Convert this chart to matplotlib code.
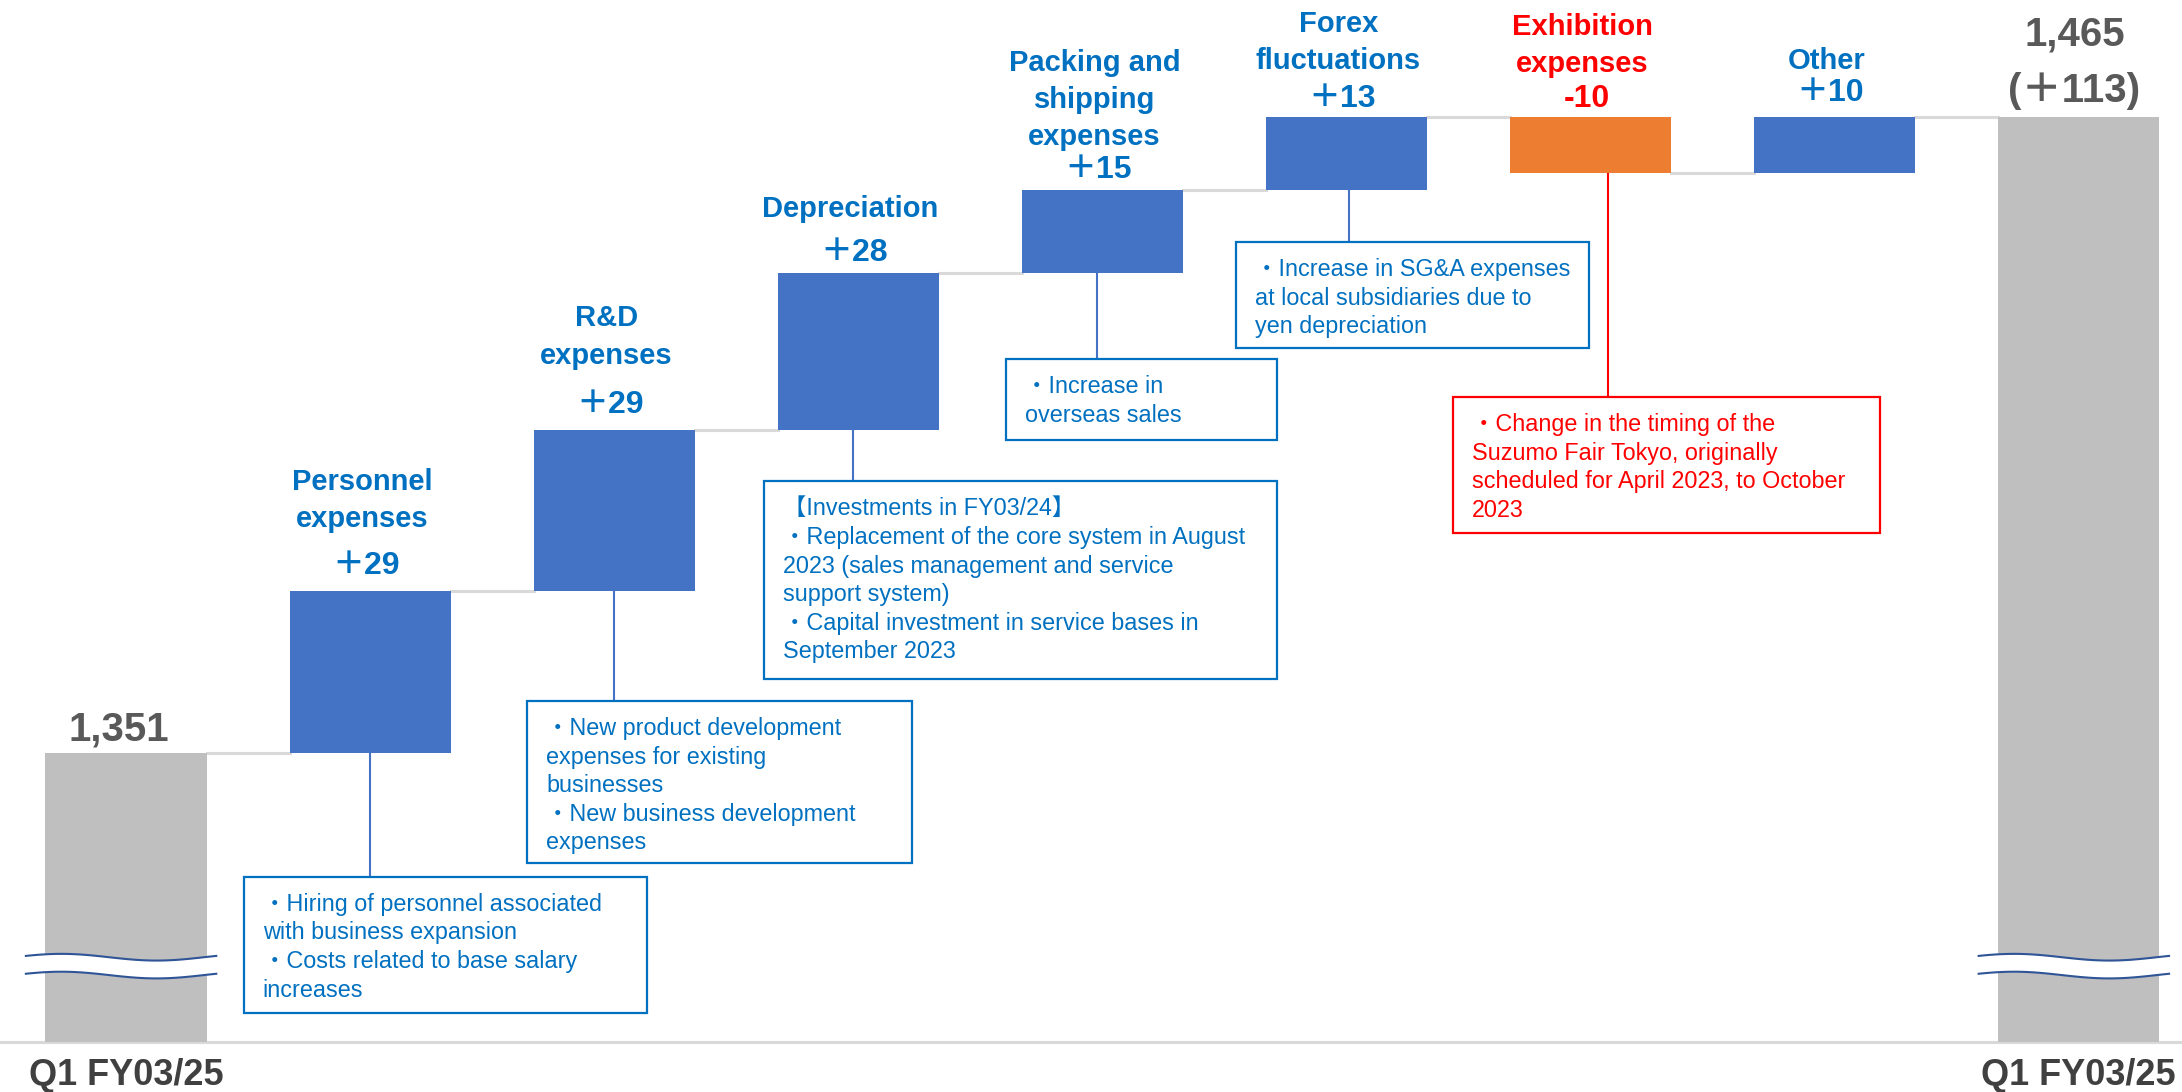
import matplotlib
import numpy as np

matplotlib.use("Agg")
import matplotlib.pyplot as plt
from matplotlib.patches import Rectangle
from matplotlib.transforms import blended_transform_factory


plt.rcParams["font.family"] = ["Liberation Sans", "Noto Sans CJK JP"]

PERIOD_LABEL = "Q1 FY03/25"
START_VALUE = 1351
END_VALUE = 1465
START_LABEL = "1,351"
END_LABEL = "1,465"
END_DIFF_LABEL = "(＋113)"

ITEM_NAMES = [
    "Personnel\nexpenses",
    "R&D\nexpenses",
    "Depreciation",
    "Packing and\nshipping\nexpenses",
    "Forex\nfluctuations",
    "Exhibition\nexpenses",
    "Other",
]
ITEM_CHANGES = [29, 29, 28, 15, 13, -10, 10]
ITEM_LABELS = ["＋29", "＋29", "＋28", "＋15", "＋13", "-10", "＋10"]

NOTE_ITEMS = [0, 1, 2, 3, 4, 5]
NOTE_TEXTS = [
    "・Hiring of personnel associated\nwith business expansion\n・Costs related to base salary\nincreases",
    "・New product development\nexpenses for existing\nbusinesses\n・New business development\nexpenses",
    "【Investments in FY03/24】\n・Replacement of the core system in August\n2023 (sales management and service\nsupport system)\n・Capital investment in service bases in\nSeptember 2023",
    "・Increase in\noverseas sales",
    "・Increase in SG&A expenses\nat local subsidiaries due to\nyen depreciation",
    "・Change in the timing of the\nSuzumo Fair Tokyo, originally\nscheduled for April 2023, to October\n2023",
]

# layout: note boxes as (left, right, top, bottom) in data units
NOTE_BOXES = [
    (0.483, 2.134, 1328.8, 1304.4),
    (1.643, 3.220, 1360.3, 1331.3),
    (2.614, 4.715, 1399.7, 1364.3),
    (3.605, 4.715, 1421.6, 1407.1),
    (4.547, 5.994, 1442.6, 1423.6),
    (5.436, 7.186, 1414.8, 1390.4),
]
NOTE_LINE_DX = [0.0, 0.0, -0.02, -0.02, 0.01, 0.07]
VALUE_OFFSET = [25, 25, 20, 20, 18, 18, 24]
NAME_OFFSET = [58, 60, 50, 39, 42, 39, 42]

BLUE_BAR = "#4472C4"
ORANGE_BAR = "#ED7D31"
GRAY_BAR = "#BFBFBF"
TEXT_BLUE = "#0070C0"
TEXT_RED = "#FF0000"
GRAY_TEXT = "#595959"
LINE_GRAY = "#D9D9D9"
BREAK_BLUE = "#2F5597"

BAR_W = 0.66
Y_MIN, Y_MAX = 1299.2, 1486.0


def draw_break(ax, xc):
    xs = np.linspace(xc - 0.41, xc + 0.37, 100)
    t = (xs - xs[0]) / (xs[-1] - xs[0])
    wave = 0.6 * np.sin(2 * np.pi * t + 0.4)
    upper = 1314.4 + wave
    lower = 1311.2 + wave
    ax.fill_between(xs, lower, upper, color="white", zorder=3, lw=0)
    ax.plot(xs, upper, color=BREAK_BLUE, lw=1.5, zorder=4)
    ax.plot(xs, lower, color=BREAK_BLUE, lw=1.5, zorder=4)


def main():
    fig = plt.figure(figsize=(21.82, 10.92), dpi=100)
    ax = fig.add_axes([0, 50 / 1092, 1, 1042 / 1092])
    ax.set_xlim(-0.516, 8.423)
    ax.set_ylim(Y_MIN, Y_MAX)
    ax.axis("off")

    n_items = len(ITEM_CHANGES)
    last_x = n_items + 1

    # running totals
    levels = [START_VALUE]
    for ch in ITEM_CHANGES:
        levels.append(levels[-1] + ch)

    ax.bar(0, START_VALUE, width=BAR_W, color=GRAY_BAR, zorder=2)
    ax.bar(last_x, END_VALUE, width=BAR_W, color=GRAY_BAR, zorder=2)

    for k, ch in enumerate(ITEM_CHANGES):
        color = BLUE_BAR if ch >= 0 else ORANGE_BAR
        ax.bar(k + 1, abs(ch), bottom=min(levels[k], levels[k + 1]),
               width=BAR_W, color=color, zorder=2)

    # connectors between bars
    for i in range(n_items + 1):
        ax.plot([i + BAR_W / 2, i + 1 - BAR_W / 2], [levels[i], levels[i]],
                color=LINE_GRAY, lw=2.2, zorder=1)

    # baseline
    ax.axhline(Y_MIN, color=LINE_GRAY, lw=2.2, zorder=1, clip_on=False)

    draw_break(ax, 0)
    draw_break(ax, last_x)

    # item labels
    for k, (name, lab) in enumerate(zip(ITEM_NAMES, ITEM_LABELS)):
        top = max(levels[k], levels[k + 1])
        color = TEXT_RED if ITEM_CHANGES[k] < 0 else TEXT_BLUE
        ax.annotate(lab, (k + 1, top), xytext=(-4, VALUE_OFFSET[k]),
                    textcoords="offset pixels", ha="center", va="center",
                    fontsize=23, fontweight="bold", color=color)
        ax.annotate(name, (k + 1, top), xytext=(-8, NAME_OFFSET[k]),
                    textcoords="offset pixels", ha="center", va="bottom",
                    fontsize=21, fontweight="bold", color=color,
                    linespacing=1.41)

    # totals
    ax.annotate(START_LABEL, (0, START_VALUE), xytext=(-7, 13),
                textcoords="offset pixels", ha="center", va="baseline",
                fontsize=29, fontweight="bold", color=GRAY_TEXT)
    ax.annotate(END_DIFF_LABEL, (last_x, END_VALUE), xytext=(-5, 15),
                textcoords="offset pixels", ha="center", va="baseline",
                fontsize=29, fontweight="bold", color=GRAY_TEXT)
    ax.annotate(END_LABEL, (last_x, END_VALUE), xytext=(-4, 72),
                textcoords="offset pixels", ha="center", va="baseline",
                fontsize=29, fontweight="bold", color=GRAY_TEXT)

    trans = blended_transform_factory(ax.transData, ax.transAxes)
    for xi in (0, last_x):
        ax.annotate(PERIOD_LABEL, (xi, 0), xycoords=trans, xytext=(0, -43),
                    textcoords="offset pixels", ha="center", va="baseline",
                    fontsize=26, fontweight="bold", color="#404040",
                    annotation_clip=False)

    # note boxes
    for k, text, (x0, x1, y_top, y_bot), dx in zip(NOTE_ITEMS, NOTE_TEXTS, NOTE_BOXES, NOTE_LINE_DX):
        color = TEXT_RED if ITEM_CHANGES[k] < 0 else TEXT_BLUE
        line_color = TEXT_RED if ITEM_CHANGES[k] < 0 else BLUE_BAR
        bar_bottom = min(levels[k], levels[k + 1])
        ax.plot([k + 1 + dx, k + 1 + dx], [bar_bottom, y_top], color=line_color,
                lw=1.5, zorder=1.5)
        ax.add_patch(Rectangle((x0, y_bot), x1 - x0, y_top - y_bot, facecolor="white",
                               edgecolor=color, lw=1.6, zorder=5))
        ax.annotate(text, (x0, y_top), xytext=(19, -16), textcoords="offset pixels",
                    ha="left", va="top", fontsize=16.8, color=color,
                    linespacing=1.31, zorder=6)

    fig.savefig("out.png", dpi=100)
    plt.close(fig)


if __name__ == "__main__":
    main()
